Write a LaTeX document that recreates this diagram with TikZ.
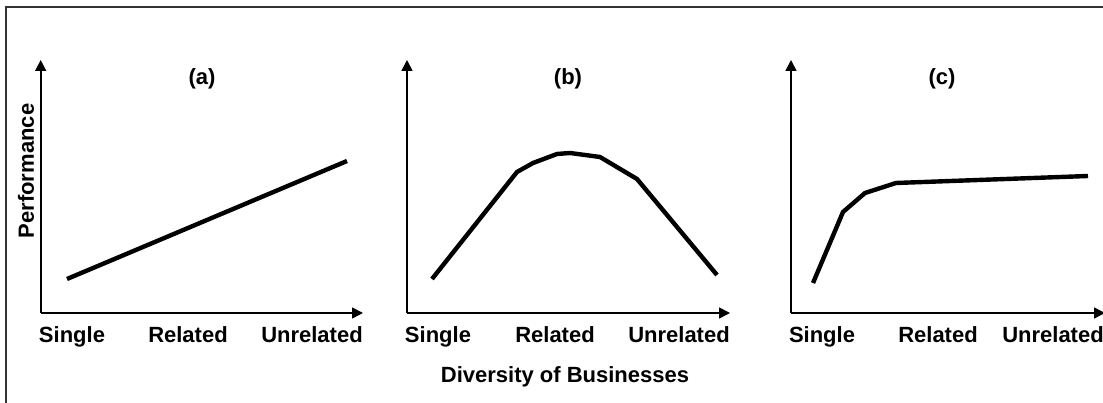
\documentclass[tikz,border=0pt]{standalone}
\usepackage{fontspec}
\setmainfont{Liberation Sans}
\usepackage{xcolor}
\usepackage{tikz}
\usetikzlibrary{arrows.meta}
\definecolor{ink}{HTML}{000000}
\definecolor{frame}{HTML}{333333}
\tikzset{
  axisline/.style={draw=ink, line width=1.6pt, -{Triangle[length=11pt,width=11pt]}},
  curveline/.style={draw=ink, line width=4.4pt, line join=round},
  frameline/.style={draw=frame, line width=1.5pt},
  lbl/.style={text=ink, font=\fontsize{22}{26}\selectfont\bfseries, inner sep=0pt, anchor=base}
}

\begin{document}
\begin{tikzpicture}[x=1pt,y=1pt]
  \useasboundingbox (0,0) rectangle (1103,403);
  \draw[frameline] (6,-10) -- (6,396) -- (1115,396);

  % (a)
  \coordinate (Oa) at (40.7,90);
  \coordinate (Ya) at (40.7,343);
  \coordinate (Xa) at (363,90);
  \draw[axisline] (Oa) -- (Ya);
  \draw[axisline] (Oa) -- (Xa);
  \draw[curveline] (67,124) -- (347,242);
  \node[lbl] (ta) at (202,318) {(a)};
  \node[lbl] (sa) at (72,60) {Single};
  \node[lbl] (ra) at (188,60) {Related};
  \node[lbl] (ua) at (312,60) {Unrelated};
  \node[lbl, anchor=center, rotate=90] (perf) at (26,232) {Performance};

  % (b)
  \coordinate (Ob) at (407,90);
  \coordinate (Yb) at (407,343);
  \coordinate (Xb) at (730,90);
  \draw[axisline] (Ob) -- (Yb);
  \draw[axisline] (Ob) -- (Xb);
  \draw[curveline] (432,124) -- (517,231) -- (533,240) -- (557,249) -- (570,250)
    -- (600,246) -- (637,224) -- (717,128);
  \node[lbl] (tb) at (568,318) {(b)};
  \node[lbl] (sb) at (438,60) {Single};
  \node[lbl] (rb) at (555,60) {Related};
  \node[lbl] (ub) at (679,60) {Unrelated};
  \node[lbl] (div) at (565,20) {Diversity of Businesses};

  % (c)
  \coordinate (Oc) at (791,90);
  \coordinate (Yc) at (791,343);
  \coordinate (Xc) at (1105,90);
  \draw[axisline] (Oc) -- (Yc);
  \draw[axisline] (Oc) -- (Xc);
  \draw[curveline] (813,120) -- (843,191) -- (865,210) -- (896,220) -- (1088,227);
  \node[lbl] (tc) at (942,318) {(c)};
  \node[lbl] (sc) at (822,60) {Single};
  \node[lbl] (rc) at (938,60) {Related};
  \node[lbl] (uc) at (1053,60) {Unrelated};
\end{tikzpicture}
\end{document}
